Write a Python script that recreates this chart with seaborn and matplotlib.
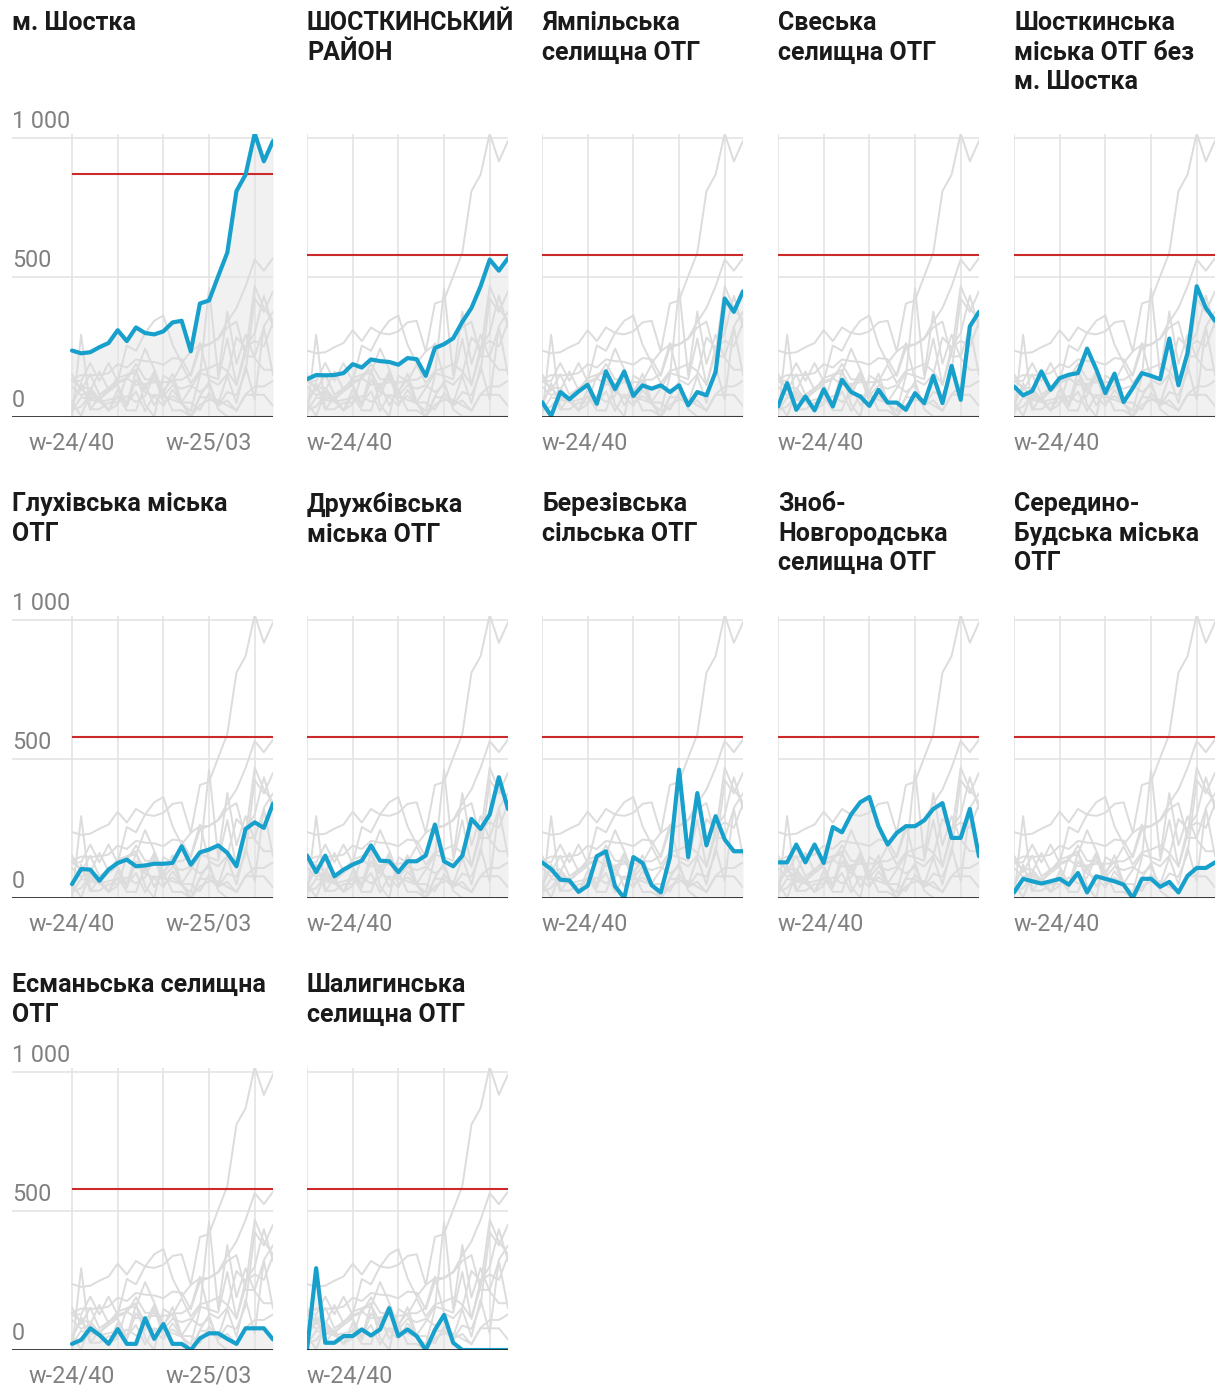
import matplotlib
matplotlib.use("Agg")
import matplotlib.pyplot as plt
import seaborn as sns
import pandas as pd

# Weeks (x axis)
weeks = ["w-24/40", "w-24/41", "w-24/42", "w-24/43", "w-24/44", "w-24/45", "w-24/46",
         "w-24/47", "w-24/48", "w-24/49", "w-24/50", "w-24/51", "w-24/52", "w-25/01",
         "w-25/02", "w-25/03", "w-25/04", "w-25/05", "w-25/06", "w-25/07", "w-25/08",
         "w-25/09", "w-25/10"]

titles = ["м. Шостка", "ШОСТКИНСЬКИЙ\nРАЙОН", "Ямпільська\nселищна ОТГ",
          "Свеська\nселищна ОТГ", "Шосткинська\nміська ОТГ без\nм. Шостка",
          "Глухівська міська\nОТГ", "Дружбівська\nміська ОТГ", "Березівська\nсільська ОТГ",
          "Зноб-\nНовгородська\nселищна ОТГ", "Середино-\nБудська міська\nОТГ",
          "Есманьська селищна\nОТГ", "Шалигинська\nселищна ОТГ"]

# red threshold line per panel
thresholds = [870, 580, 580, 580, 580, 580, 580, 580, 580, 580, 580, 580]

shostka = [237, 227, 231, 249, 264, 310, 271, 320, 300, 295, 306, 338, 344, 234, 406, 417,
           504, 589, 810, 869, 1017, 917, 990]
raion = [134, 149, 148, 149, 156, 188, 176, 205, 199, 196, 186, 210, 206, 146, 246, 260,
         281, 340, 390, 468, 564, 524, 569]
yampil = [52, 2, 88, 62, 90, 114, 46, 162, 98, 162, 74, 112, 100, 112, 88, 112,
          40, 88, 76, 160, 424, 376, 450]
sveska = [36, 120, 24, 72, 22, 98, 36, 132, 88, 72, 38, 96, 50, 50, 24, 84,
          48, 146, 48, 182, 60, 324, 376]
shostka_otg = [108, 76, 92, 162, 96, 138, 150, 156, 244, 170, 84, 154, 52, 102, 156, 146,
               134, 280, 112, 228, 468, 390, 344]
hlukhiv = [50, 104, 102, 62, 102, 126, 138, 114, 117, 123, 123, 126, 186, 120, 164, 174,
           189, 162, 114, 248, 272, 252, 339]
druzhba = [153, 93, 152, 78, 102, 120, 134, 189, 134, 132, 93, 132, 132, 153, 264, 132,
           114, 152, 284, 248, 300, 434, 320]
berezivka = [128, 104, 66, 63, 22, 44, 150, 168, 42, 0, 147, 126, 46, 20, 146, 461,
             147, 377, 189, 294, 210, 168, 168]
znob = [128, 128, 192, 128, 192, 126, 255, 236, 300, 344, 363, 258, 192, 234, 258, 258,
        279, 320, 341, 216, 216, 320, 150]
seredyna = [20, 69, 60, 52, 60, 69, 48, 90, 20, 78, 69, 60, 48, 0, 69, 69,
            40, 58, 20, 80, 108, 108, 128]
esman = [22, 36, 78, 54, 22, 75, 22, 22, 114, 40, 93, 22, 22, 0, 42, 60,
         60, 40, 22, 78, 78, 78, 38]
shalyhyne = [0, 294, 26, 26, 50, 50, 74, 52, 74, 150, 50, 74, 50, 0, 72, 126,
             26, 0, 0, 0, 0, 0, 0]

series = [shostka, raion, yampil, sveska, shostka_otg, hlukhiv, druzhba, berezivka,
          znob, seredyna, esman, shalyhyne]

rows = []
for name, vals in zip(titles, series):
    for i, v in enumerate(vals):
        rows.append({"name": name, "i": i, "week": weeks[i], "value": v})
df = pd.DataFrame(rows)

sns.set_theme(style="white")
plt.rcParams['font.family'] = ['Roboto', 'DejaVu Sans']

BLUE = "#18a0cc"
GREY = "#dcdcdc"
RED = "#cc2a2a"
TICK = "#808080"

W, H = 1222, 1387
fig = plt.figure(figsize=(W / 100, H / 100), dpi=100)

col_x = [72, 307, 542, 778, 1014]
row_base = [416.5, 898, 1350]
title_top = [11, 492, 973]
plot_w = 201
ymax = 1015
plot_h = ymax * 0.2783
extra = 60
n = len(weeks) - 1

for k, name in enumerate(titles):
    r, c = divmod(k, 5)
    left = col_x[c] - (extra if c == 0 else 0)
    width = plot_w + (extra if c == 0 else 0)
    ax = fig.add_axes([left / W, 1 - row_base[r] / H, width / W, plot_h / H])

    sub = df[df["name"] == name]
    ax.fill_between(sub["i"], sub["value"], color="#f1f1f1", lw=0, zorder=0.5)
    sns.lineplot(data=df, x="i", y="value", units="name", estimator=None,
                 color=GREY, lw=1.4, ax=ax, legend=False, zorder=2)
    ax.hlines(thresholds[k], 0, n, color=RED, lw=1.5, zorder=3)
    sns.lineplot(data=sub, x="i", y="value", color=BLUE, lw=3.0, ax=ax,
                 legend=False, zorder=4)
    ax.axhline(0, color="#1a1a1a", lw=1.9, zorder=5)

    xmin = -extra / plot_w * n if c == 0 else 0
    ax.set_xlim(xmin, n)
    ax.set_ylim(0, ymax)
    ax.set_xticks(range(0, len(weeks), 5))
    ax.set_yticks([500, 1000])
    ax.grid(True, color="#e4e4e4", lw=1.2)
    ax.set_axisbelow(True)
    ax.tick_params(length=0, labelbottom=False, labelleft=False)
    for s in ax.spines.values():
        s.set_visible(False)
    ax.set_xlabel("")
    ax.set_ylabel("")

    if c == 0:
        for v, s in zip([0, 500, 1000], ["0", "500", "1 000"]):
            ax.annotate(s, xy=(0, v), xycoords=("axes fraction", "data"),
                        xytext=(0, 10), textcoords="offset pixels", ha="left",
                        va="baseline", fontsize=16.8, color=TICK, annotation_clip=False)
        for wi, ha in [(0, "center"), (15, "center")]:
            ax.annotate(weeks[wi], xy=(wi, 0), xytext=(0, -33), textcoords="offset pixels",
                        ha=ha, va="baseline", fontsize=16.8, color=TICK, annotation_clip=False)
    else:
        ax.annotate(weeks[0], xy=(0, 0), xytext=(0, -33), textcoords="offset pixels",
                    ha="left", va="baseline", fontsize=16.8, color=TICK, annotation_clip=False)

    tx = 12 if c == 0 else col_x[c]
    fig.text(tx / W, 1 - title_top[r] / H, name, ha="left", va="top", fontsize=18,
             fontweight="bold", color="#1a1a1a", linespacing=1.3)

fig.savefig("out.png", dpi=100)
